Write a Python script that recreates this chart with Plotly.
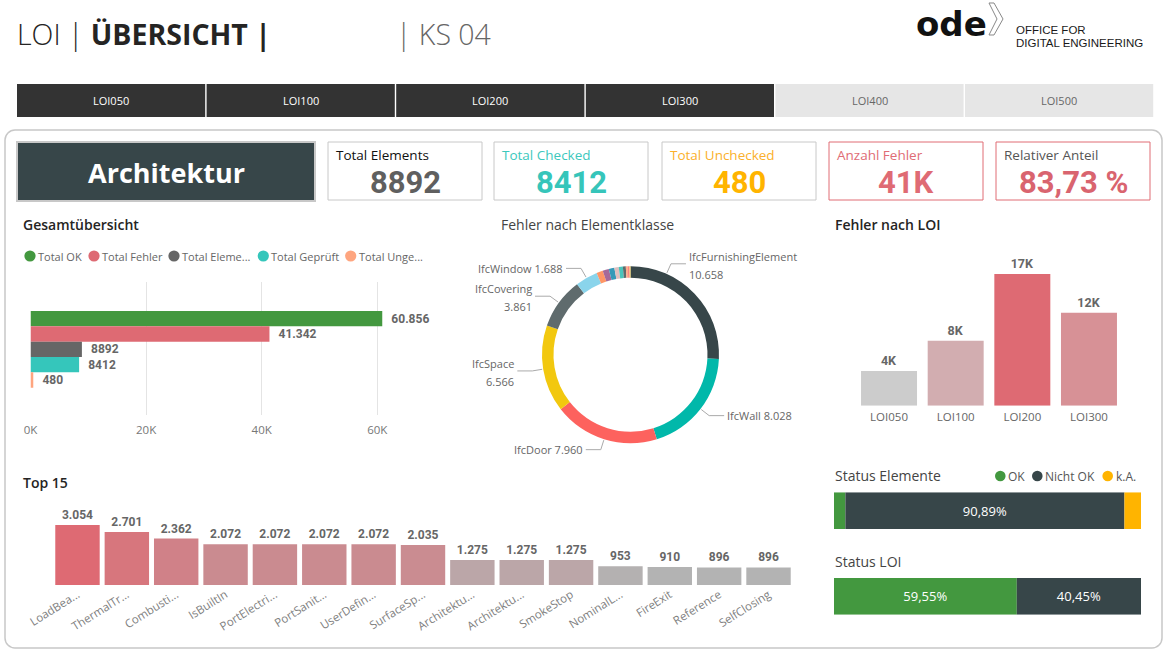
import numpy as np
import plotly.graph_objects as go

W, H = 1167, 656


def X(px):
    return px / W


def Y(py):
    return 1 - py / H


BASE = "Segoe UI, Open Sans, sans-serif"
NUM = "Roboto, DIN, sans-serif"

# ---------------- data ----------------
header_left = "LOI |"
header_bold = "ÜBERSICHT |"
header_right = "| KS 04"
logo_word = "ode"
logo_lines = ["OFFICE FOR", "DIGITAL ENGINEERING"]

tab_labels = ["LOI050", "LOI100", "LOI200", "LOI300", "LOI400", "LOI500"]
tab_selected = [True, True, True, True, False, False]

discipline = "Architektur"
kpi_titles = ["Total Elements", "Total Checked", "Total Unchecked", "Anzahl Fehler", "Relativer Anteil"]
total_elements = 8892
total_checked = 8412
total_unchecked = 480
total_errors = 41342
relative_share = 83.73

overview_title = "Gesamtübersicht"
overview_names = ["Total OK", "Total Fehler", "Total Elemente", "Total Geprüft", "Total Ungeprüft"]
overview_legend = ["Total OK", "Total Fehler", "Total Eleme...", "Total Geprüft", "Total Unge..."]
overview_values = [60856, 41342, 8892, 8412, 480]
overview_ticks = [0, 20000, 40000, 60000]
overview_ticktext = ["0K", "20K", "40K", "60K"]

donut_title = "Fehler nach Elementklasse"
class_names = ["IfcFurnishingElement", "IfcWall", "IfcDoor", "IfcSpace", "IfcCovering", "IfcWindow",
               "IfcStair", "IfcRailing", "IfcSlab", "IfcBeam", "IfcColumn", "IfcRoof",
               "IfcStairFlight", "IfcRamp", "IfcCurtainWall"]
class_values = [10658, 8028, 7960, 6566, 3861, 1688, 480, 470, 420, 330, 310, 220, 150, 130, 71]

loi_title = "Fehler nach LOI"
loi_names = ["LOI050", "LOI100", "LOI200", "LOI300"]
loi_values = [4420, 8284, 16785, 11853]

top_title = "Top 15"
top_labels = ["LoadBea...", "ThermalTr...", "Combusti...", "IsBuiltIn", "PortElectri...", "PortSanit...",
              "UserDefin...", "SurfaceSp...", "Architektu...", "Architektu...", "SmokeStop", "NominalL...",
              "FireExit", "Reference", "SelfClosing"]
top_values = [3054, 2701, 2362, 2072, 2072, 2072, 2072, 2035, 1275, 1275, 1275, 953, 910, 896, 896]

status_el_title = "Status Elemente"
status_el_names = ["OK", "Nicht OK", "k.A."]
status_el_values = [330, 8082, 480]
status_loi_title = "Status LOI"
status_loi_names = ["OK", "Nicht OK"]
status_loi_values = [60856, 41342]

# ---------------- styles ----------------
GREEN = "#43983f"
RED = "#de6a73"
SLATE = "#374649"
ORANGE = "#ffb400"
overview_colors = [GREEN, RED, "#666666", "#35c6bb", "#fea57f"]
donut_colors = ["#374649", "#01b8aa", "#fd625e", "#f2c80f", "#5f6b6d", "#8ad4eb", "#fe9666", "#a66999",
                "#3599b8", "#dfbfbf", "#4ac5bb", "#5f6b6d", "#fdab89", "#fb8281", "#f4d25a"]
status_el_colors = [GREEN, SLATE, ORANGE]
status_loi_colors = [GREEN, SLATE]


def de_num(v, min_sep=1000):
    return f"{v:,}".replace(",", ".") if v >= min_sep else str(v)


annotations = []
shapes = []


def text(px, py, s, size, color, xanchor="left", yanchor="middle", family=BASE, weight="normal", align=None):
    annotations.append(dict(
        x=X(px), y=Y(py), xref="paper", yref="paper", text=s, showarrow=False,
        xanchor=xanchor, yanchor=yanchor, align=align or (xanchor if xanchor != "center" else "center"),
        font=dict(size=size, color=color, family=family, weight=weight), borderpad=0))


def rect(x0, y0, x1, y1, fill="rgba(0,0,0,0)", line=None, lw=1, layer="below"):
    shapes.append(dict(type="rect", xref="paper", yref="paper", x0=X(x0), x1=X(x1), y0=Y(y1), y1=Y(y0),
                       fillcolor=fill, line=dict(color=line or "rgba(0,0,0,0)", width=lw if line else 0),
                       layer=layer))


def circle(cx, cy, r, color):
    shapes.append(dict(type="circle", xref="paper", yref="paper", x0=X(cx - r), x1=X(cx + r),
                       y0=Y(cy + r), y1=Y(cy - r), fillcolor=color, line=dict(width=0)))


def path(points, color, lw=1, close=False, fill="rgba(0,0,0,0)"):
    d = "M " + " L ".join(f"{X(a):.5f},{Y(b):.5f}" for a, b in points) + (" Z" if close else "")
    shapes.append(dict(type="path", xref="paper", yref="paper", path=d,
                       line=dict(color=color, width=lw), fillcolor=fill))


# ---------------- header ----------------
text(16, 34, f"{header_left} <b>{header_bold}</b>", 28.5, "#252423", weight=300)
text(395, 34, header_right, 28.5, "#666666", weight=300)
text(915, 24, f"<b>{logo_word}</b>", 34, "#111111", family="DejaVu Sans")
path([(989, 3), (994, 3), (1003, 19), (994, 35), (989, 35), (997, 19)], "#888888", 1, close=True)
text(1015, 30, logo_lines[0], 11.5, "#1a1a1a", family="Liberation Sans, Arial")
text(1015, 43, logo_lines[1], 11.5, "#1a1a1a", family="Liberation Sans, Arial")

# tabs
tab_x0, tab_w, tab_gap = 17, 188.2, 1.4
for i, (lab, sel) in enumerate(zip(tab_labels, tab_selected)):
    x0 = tab_x0 + i * (tab_w + tab_gap)
    rect(x0, 84, x0 + tab_w, 117, fill="#333333" if sel else "#e6e6e6")
    text(x0 + tab_w / 2, 101, lab, 11, "#ffffff" if sel else "#666666", xanchor="center")

# main panel (rounded)
px0, py0, px1, py1, r = 5, 130, 1162, 648, 10
k = 0.45
panel = (f"M {X(px0 + r)},{Y(py0)} L {X(px1 - r)},{Y(py0)} "
         f"C {X(px1 - r * k)},{Y(py0)} {X(px1)},{Y(py0 + r * k)} {X(px1)},{Y(py0 + r)} "
         f"L {X(px1)},{Y(py1 - r)} "
         f"C {X(px1)},{Y(py1 - r * k)} {X(px1 - r * k)},{Y(py1)} {X(px1 - r)},{Y(py1)} "
         f"L {X(px0 + r)},{Y(py1)} "
         f"C {X(px0 + r * k)},{Y(py1)} {X(px0)},{Y(py1 - r * k)} {X(px0)},{Y(py1 - r)} "
         f"L {X(px0)},{Y(py0 + r)} "
         f"C {X(px0)},{Y(py0 + r * k)} {X(px0 + r * k)},{Y(py0)} {X(px0 + r)},{Y(py0)} Z")
shapes.append(dict(type="path", xref="paper", yref="paper", path=panel, layer="below",
                   line=dict(color="#c8c8c8", width=1.5), fillcolor="rgba(0,0,0,0)"))

# discipline box
rect(17, 142, 315, 201, fill=SLATE, line="#c8c8c8", lw=2)
text(166, 172, f"<b>{discipline}</b>", 27, "#ffffff", xanchor="center")

# KPI cards
kpi_values = [str(total_elements), str(total_checked), str(total_unchecked),
              f"{round(total_errors / 1000)}K", f"{relative_share:.2f} %".replace(".", ",")]
kpi_title_colors = ["#111111", "#3cc8bd", "#fbb02a", "#e06c75", "#555555"]
kpi_value_colors = ["#5f5f5f", "#36c5ba", "#ffb400", "#df6b74", "#d9646f"]
kpi_borders = ["#c8c8c8", "#c8c8c8", "#c8c8c8", "#e06c75", "#e06c75"]
card_x = [328, 494, 662, 829, 996]
card_w = 154
for i in range(5):
    x0 = card_x[i]
    rect(x0, 142, x0 + card_w, 200, fill="#ffffff", line=kpi_borders[i], lw=1)
    text(x0 + 7, 155, kpi_titles[i], 13.5, kpi_title_colors[i])
    text(x0 + card_w / 2, 182, f"<b>{kpi_values[i]}</b>", 31, kpi_value_colors[i], xanchor="center", family=NUM)

# section titles
text(22, 224, overview_title, 14, "#252423", weight=600)
text(587, 224, donut_title, 14, "#444444", xanchor="center")
text(834, 224, loi_title, 14, "#252423", weight=600)
text(22, 482, top_title, 14, "#252423", weight=600)
text(834, 475, status_el_title, 14, "#444444")
text(834, 561, status_loi_title, 14, "#444444")

# overview legend
leg_cx = [30, 94, 174, 263.3, 350.7]
for cxp, name, col in zip(leg_cx, overview_legend, overview_colors):
    circle(cxp, 256, 5.6, col)
    text(cxp + 7, 256, name, 11, "#666666")

# status legend
st_leg_cx = [1000.3, 1037.3, 1107.7]
for cxp, name, col in zip(st_leg_cx, status_el_names, status_el_colors):
    circle(cxp, 476, 5.3, col)
    text(cxp + 7, 476, name, 12, "#555555")

# ---------------- traces ----------------
fig = go.Figure()

# overview horizontal bars
fig.add_trace(go.Bar(
    x=overview_values, y=list(range(len(overview_values))), orientation="h", width=1,
    marker=dict(color=overview_colors, line=dict(width=0)),
    text=["\u2002" + de_num(v, 10000) for v in overview_values],
    textposition="outside", constraintext="none", cliponaxis=False,
    textfont=dict(family=NUM, size=12, color="#666666", weight="bold"),
    xaxis="x", yaxis="y", hoverinfo="skip"))

# donut
cx, cy, R = 630.5, 354.7, 88.5
fig.add_trace(go.Pie(
    labels=class_names, values=class_values, hole=0.87, sort=False, direction="clockwise", rotation=0,
    marker=dict(colors=donut_colors, line=dict(width=0)), textinfo="none", hoverinfo="skip",
    domain=dict(x=[X(cx - R), X(cx + R)], y=[Y(cy + R), Y(cy - R)])))

# donut labels with leader lines
total_cls = sum(class_values)
label_count = 6
two_line = [True, False, False, True, True, False]
angle_override = {0: 24.0}
cum = 0
for i in range(label_count):
    v = class_values[i]
    ang = (cum + v / 2) / total_cls * 360
    cum += v
    ang = angle_override.get(i, ang)
    a = np.radians(ang)
    p0 = (cx + (R + 1) * np.sin(a), cy - (R + 1) * np.cos(a))
    p1 = (cx + (R + 11) * np.sin(a), cy - (R + 11) * np.cos(a))
    right = np.sin(a) > 0
    p2 = (p1[0] + (15 if right else -15), p1[1])
    path([p0, p1, p2], "#aaaaaa", 1)
    tx = p2[0] + (2 if right else -2)
    anchor = "left" if right else "right"
    if two_line[i]:
        text(tx, p2[1] - 7.5, class_names[i], 11, "#666666", xanchor=anchor)
        text(tx, p2[1] + 10.5, de_num(v), 11, "#666666", xanchor=anchor)
    else:
        text(tx, p2[1], f"{class_names[i]} {de_num(v)}", 11, "#666666", xanchor=anchor)

# LOI bars
fig.add_trace(go.Bar(
    x=loi_names, y=loi_values, width=0.84,
    marker=dict(color=loi_values, colorscale=[[0, "#cccccc"], [1, "#de6a73"]], line=dict(width=0)),
    text=[f"{round(v / 1000)}K" for v in loi_values], textposition="outside", constraintext="none",
    cliponaxis=False, textfont=dict(family=NUM, size=12.5, color="#666666", weight="bold"),
    xaxis="x3", yaxis="y3", hoverinfo="skip"))

# Top 15 bars
fig.add_trace(go.Bar(
    x=list(range(len(top_values))), y=top_values, width=0.9,
    marker=dict(color=top_values, colorscale=[[0, "#b3b3b3"], [1, "#de6a73"]], line=dict(width=0)),
    text=[de_num(v) for v in top_values], textposition="outside", constraintext="none",
    cliponaxis=False, textfont=dict(family=NUM, size=12, color="#666666", weight="bold"),
    xaxis="x4", yaxis="y4", hoverinfo="skip"))


# status bars
def add_status(values, colors, xa, ya):
    tot = sum(values)
    base = np.cumsum([0] + values[:-1]).tolist()
    labels = [f"{v / tot * 100:.2f}%".replace(".", ",") if v / tot > 0.1 else "" for v in values]
    fig.add_trace(go.Bar(
        x=values, y=[0] * len(values), base=base, orientation="h", width=1,
        marker=dict(color=colors, line=dict(width=0)), text=labels, textposition="inside",
        insidetextanchor="middle", constraintext="none",
        textfont=dict(family=BASE, size=13, color="#ffffff"),
        xaxis=xa, yaxis=ya, hoverinfo="skip"))
    return tot


tot_el = add_status(status_el_values, status_el_colors, "x5", "y5")
tot_loi = add_status(status_loi_values, status_loi_colors, "x6", "y6")


def hidden(domain, rng, anchor):
    return dict(domain=domain, range=rng, visible=False, fixedrange=True, anchor=anchor, automargin=False)


px_per_k = (377.3 - 30.5) / 60.0
fig.update_layout(
    template="none",
    width=W, height=H, margin=dict(l=0, r=0, t=0, b=0, pad=0, autoexpand=False), autosize=False,
    paper_bgcolor="#ffffff", plot_bgcolor="rgba(0,0,0,0)", showlegend=False,
    font=dict(family=BASE, color="#666666"),
    xaxis=dict(domain=[X(30.5), X(440)], range=[0, (440 - 30.5) / px_per_k * 1000],
               tickvals=overview_ticks, ticktext=overview_ticktext, showgrid=True, gridcolor="#e4e4e4",
               gridwidth=1, zeroline=False, showline=False, ticks="", ticklabelstandoff=6, automargin=False,
               tickfont=dict(family=BASE, size=11.5, color="#777777"), anchor="y", fixedrange=True),
    yaxis=hidden([Y(415), Y(281.7)], [6.28, -2.41], "x"),
    xaxis3=dict(domain=[X(855.7), X(1122.3)], range=[-0.5, 3.5], type="category", showgrid=False,
                zeroline=False, showline=False, ticks="", ticklabelstandoff=3, automargin=False,
                tickfont=dict(family=BASE, size=11.5, color="#666666"), anchor="y3", fixedrange=True),
    yaxis3=hidden([Y(405.7), Y(250)], [0, (405.7 - 250) / 131.7 * 16785], "x3"),
    xaxis4=dict(domain=[X(52.8), X(793.2)], range=[-0.5, 14.5], tickvals=list(range(len(top_labels))),
                ticktext=top_labels, tickangle=-32, showgrid=False, zeroline=False, showline=False, ticks="",
                automargin=False,
                tickfont=dict(family=BASE, size=11.5, color="#808080"), anchor="y4", fixedrange=True),
    yaxis4=hidden([Y(585), Y(505)], [0, 80 / 60 * 3054], "x4"),
    xaxis5=hidden([X(834), X(1141)], [0, tot_el], "y5"),
    yaxis5=hidden([Y(529), Y(492.3)], [-0.5, 0.5], "x5"),
    xaxis6=hidden([X(834), X(1141)], [0, tot_loi], "y6"),
    yaxis6=hidden([Y(614.7), Y(578)], [-0.5, 0.5], "x6"),
    annotations=annotations, shapes=shapes,
)

fig.write_html("out.html")
